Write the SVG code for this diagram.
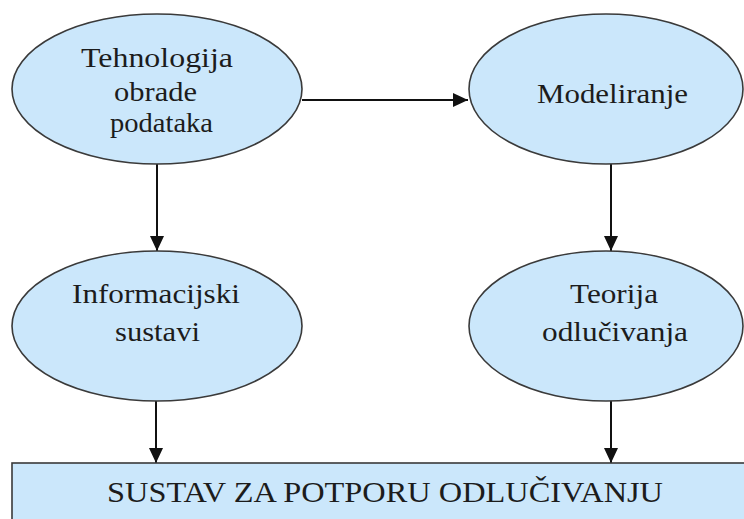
<svg xmlns="http://www.w3.org/2000/svg" width="744" height="519" viewBox="0 0 744 519">
<defs>
<style>
.node{fill:#cbe7fb;stroke:#3a3a3a;stroke-width:1.6}
.lbl{font-family:"Liberation Serif","Times New Roman",serif;font-size:27px;fill:#1c1c1c;text-anchor:start}
.cap{font-family:"Liberation Serif","Times New Roman",serif;font-size:29px;fill:#1c1c1c}
.edge{stroke:#111;stroke-width:2;fill:none}
</style>
<marker id="ah" markerUnits="userSpaceOnUse" markerWidth="15" markerHeight="14" refX="15" refY="7" orient="auto">
<path d="M0,0 L15,7 L0,14 z" fill="#111"/>
</marker>
</defs>
<rect width="744" height="519" fill="#ffffff"/>
<g id="connectors">
<line class="edge" x1="302" y1="100" x2="468" y2="100" marker-end="url(#ah)"/>
<line class="edge" x1="157" y1="164" x2="157" y2="251" marker-end="url(#ah)"/>
<line class="edge" x1="611" y1="164" x2="611" y2="251" marker-end="url(#ah)"/>
<line class="edge" x1="156" y1="401" x2="156" y2="463" marker-end="url(#ah)"/>
<line class="edge" x1="611" y1="401" x2="611" y2="463" marker-end="url(#ah)"/>
</g>
<g id="n-tehnologija">
<ellipse class="node" cx="157" cy="89" rx="145" ry="75"/>
<text class="lbl" x="81" y="67" textLength="152" lengthAdjust="spacingAndGlyphs">Tehnologija</text>
<text class="lbl" x="114" y="101" textLength="83" lengthAdjust="spacingAndGlyphs">obrade</text>
<text class="lbl" x="110" y="132" textLength="103" lengthAdjust="spacingAndGlyphs">podataka</text>
</g>
<g id="n-modeliranje">
<ellipse class="node" cx="606" cy="89" rx="137" ry="75"/>
<text class="lbl" x="537" y="103" textLength="151" lengthAdjust="spacingAndGlyphs">Modeliranje</text>
</g>
<g id="n-informacijski">
<ellipse class="node" cx="157" cy="326" rx="145" ry="75"/>
<text class="lbl" x="72" y="303" textLength="168" lengthAdjust="spacingAndGlyphs">Informacijski</text>
<text class="lbl" x="115" y="341" textLength="85" lengthAdjust="spacingAndGlyphs">sustavi</text>
</g>
<g id="n-teorija">
<ellipse class="node" cx="606" cy="326" rx="137" ry="75"/>
<text class="lbl" x="570" y="303" textLength="88" lengthAdjust="spacingAndGlyphs">Teorija</text>
<text class="lbl" x="542" y="341" textLength="146" lengthAdjust="spacingAndGlyphs">odlučivanja</text>
</g>
<g id="n-sustav">
<rect class="node" x="12" y="463" width="740" height="70"/>
<text class="cap" x="107" y="502" textLength="556" lengthAdjust="spacingAndGlyphs">SUSTAV ZA POTPORU ODLUČIVANJU</text>
</g>
</svg>
